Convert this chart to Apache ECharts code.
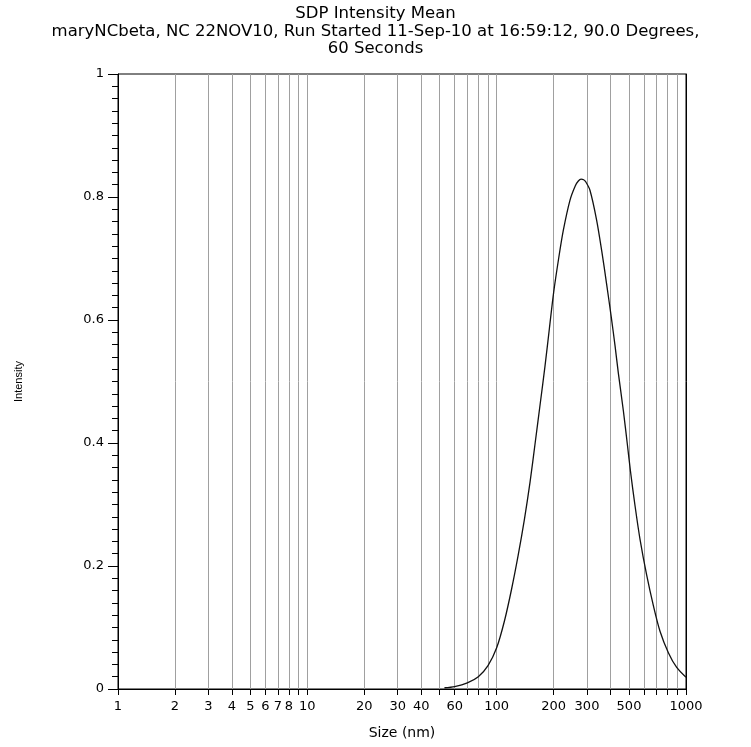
<!DOCTYPE html>
<html>
<head>
<meta charset="utf-8">
<script src="https://cdn.jsdelivr.net/npm/echarts@6/dist/echarts.min.js"></script>
<style>
  html, body { margin: 0; padding: 0; background: #fff; }
  #chart { width: 751px; height: 747px; }
</style>
</head>
<body>
<div id="chart"></div>
<script>
// particle size (nm) and intensity
var sizes = [53, 60, 70, 80, 90, 100, 110, 120, 130, 140, 150, 160, 170, 180, 190, 200,
    212, 225, 244, 260, 270, 279, 288, 295, 311, 337, 359, 381, 402, 422, 439, 467,
    490, 510, 538, 572, 620, 672, 729, 807, 893, 1000];
var intensity = [0.002, 0.004, 0.010, 0.020, 0.038, 0.067, 0.111, 0.163, 0.218, 0.275, 0.336, 0.402,
    0.465, 0.525, 0.587, 0.645, 0.698, 0.746, 0.795, 0.818, 0.826, 0.829, 0.828, 0.825, 0.811,
    0.763, 0.712, 0.658, 0.607, 0.558, 0.514, 0.452, 0.398, 0.352, 0.298, 0.243, 0.185, 0.136,
    0.094, 0.059, 0.035, 0.019];

// vertical grid lines / ticks and the labelled ones
var gridValues = [1, 2, 3, 4, 5, 6, 7, 8, 9, 10, 20, 30, 40, 50, 60, 70, 80, 90,
    100, 200, 300, 400, 500, 600, 700, 800, 900, 1000];
var labelValues = [1, 2, 3, 4, 5, 6, 7, 8, 10, 20, 30, 40, 60, 100, 200, 300, 500, 1000];

var titleLines = [
    'SDP Intensity Mean',
    'maryNCbeta, NC 22NOV10, Run Started 11-Sep-10 at 16:59:12, 90.0 Degrees,',
    '60 Seconds'
];

var seriesData = [];
for (let i = 0; i < sizes.length; i++) {
    seriesData.push([sizes[i], intensity[i]]);
}

var tickFont = 'DejaVu Sans';

var myChart = echarts.init(document.getElementById('chart'));
myChart.setOption({
    animation: false,
    backgroundColor: '#fff',
    title: {
        text: titleLines.join('\n'),
        left: 'center',
        top: 0,
        textStyle: {
            fontFamily: 'DejaVu Sans',
            fontSize: 16.5,
            fontWeight: 'normal',
            color: '#000',
            lineHeight: 17.5
        }
    },
    grid: {
        left: 118,
        right: 65,
        top: 74,
        bottom: 58,
        show: true,
        borderColor: '#000',
        borderWidth: 1
    },
    xAxis: {
        type: 'log',
        logBase: 10,
        min: 1,
        max: 1000,
        name: 'Size (nm)',
        nameLocation: 'middle',
        nameGap: 37,
        nameTextStyle: { fontFamily: tickFont, fontSize: 14, color: '#000' },
        axisLine: { lineStyle: { color: '#000', width: 1 } },
        axisTick: {
            customValues: gridValues,
            length: 6,
            lineStyle: { color: '#000' }
        },
        axisLabel: {
            customValues: labelValues,
            margin: 11,
            fontFamily: tickFont,
            fontSize: 13,
            color: '#000',
            formatter: function (v) {
                return String(Math.round(v));
            }
        },
        splitLine: { show: true, lineStyle: { color: '#a0a0a0', width: 1 } },
        minorTick: { show: false }
    },
    yAxis: [{
        type: 'value',
        min: 0,
        max: 1,
        interval: 0.2,
        name: 'Intensity',
        nameLocation: 'middle',
        nameRotate: 90,
        nameGap: 94,
        nameTextStyle: { fontFamily: 'Liberation Sans', fontSize: 11, color: '#000' },
        axisLine: { show: true, lineStyle: { color: '#000' } },
        axisTick: { show: true, length: 10, lineStyle: { color: '#000' } },
        minorTick: { show: true, splitNumber: 10, length: 6, lineStyle: { color: '#000' } },
        axisLabel: {
            margin: 14,
            fontFamily: tickFont,
            fontSize: 13,
            color: '#000'
        },
        splitLine: { show: false }
    }, {
        // dark right edge of the plot frame
        type: 'value',
        position: 'right',
        min: 0,
        max: 1,
        axisLine: { show: true, lineStyle: { color: '#000' } },
        axisTick: { show: false },
        axisLabel: { show: false },
        splitLine: { show: false }
    }],
    series: [{
        type: 'line',
        data: seriesData,
        showSymbol: false,
        smooth: 0.3,
        lineStyle: { color: '#111', width: 1.3 }
    }]
});
</script>
</body>
</html>
